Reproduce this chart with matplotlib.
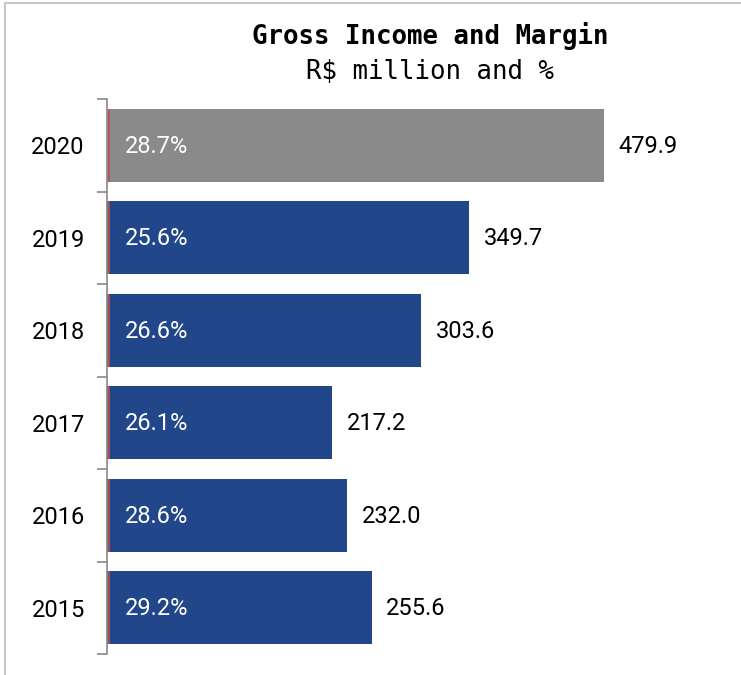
import matplotlib
matplotlib.use("Agg")
from matplotlib import pyplot as plt
from matplotlib.lines import Line2D
import numpy as np

years = ["2015", "2016", "2017", "2018", "2019", "2020"]
gross_income = [255.6, 232.0, 217.2, 303.6, 349.7, 479.9]
margin = [29.2, 28.6, 26.1, 26.6, 25.6, 28.7]

BLUE = "#21468a"
GRAY = "#8a8a8a"
W, H = 741, 675

fig = plt.figure(figsize=(W / 100, H / 100), dpi=100)
# axes box in pixel units: left 107, right 730, top 99, bottom 654
ax = fig.add_axes([107 / W, 1 - 654 / H, (730 - 107) / W, (654 - 99) / H])

pos = np.arange(len(years))
colors = [BLUE] * (len(years) - 1) + [GRAY]
ax.barh(pos, gross_income, height=0.79, color=colors, edgecolor="none", zorder=2)
ax.vlines([2.0] * len(years), pos - 0.395, pos + 0.395, color="#c0504d", lw=1.2, zorder=3)

ax.set_xlim(0, 623 / 1.0357)
ax.set_ylim(-0.5, len(years) - 0.5)

for p, v, m in zip(pos, gross_income, margin):
    ax.text(v + 14.0, p - 0.01, f"{v:.1f}", va="center", ha="left",
            fontsize=17, family="Roboto", color="black")
    ax.text(17, p - 0.01, f"{m:.1f}%", va="center", ha="left",
            fontsize=17, family="Roboto", color="white", zorder=4)

# year labels
ax.set_yticks(pos)
ax.set_yticklabels(years, fontsize=17, family="Roboto")
ax.tick_params(axis="y", which="major", length=0, pad=16)
ax.set_yticks(np.arange(-0.5, len(years)), minor=True)
ax.tick_params(axis="y", which="minor", length=7, color="#888888", width=1.2)
ax.set_xticks([])

for s in ["top", "right", "bottom"]:
    ax.spines[s].set_visible(False)
ax.spines["left"].set_color("#888888")
ax.spines["left"].set_linewidth(1.2)

fig.text(430 / W, 1 - 36 / H, "Gross Income and Margin", ha="center", va="center",
         fontsize=18.5, fontweight="bold", family="DejaVu Sans Mono")
fig.text(430 / W, 1 - 72 / H, "R$ million and %", ha="center", va="center",
         fontsize=18.5, family="DejaVu Sans Mono")

# outer frame lines (top and left)
fig.add_artist(Line2D([5 / W, 1], [1 - 3 / H, 1 - 3 / H], color="#c8c8c8", lw=1.5,
                      transform=fig.transFigure))
fig.add_artist(Line2D([5 / W, 5 / W], [0, 1 - 3 / H], color="#c8c8c8", lw=1.5,
                      transform=fig.transFigure))

plt.savefig("out.png", dpi=100)
